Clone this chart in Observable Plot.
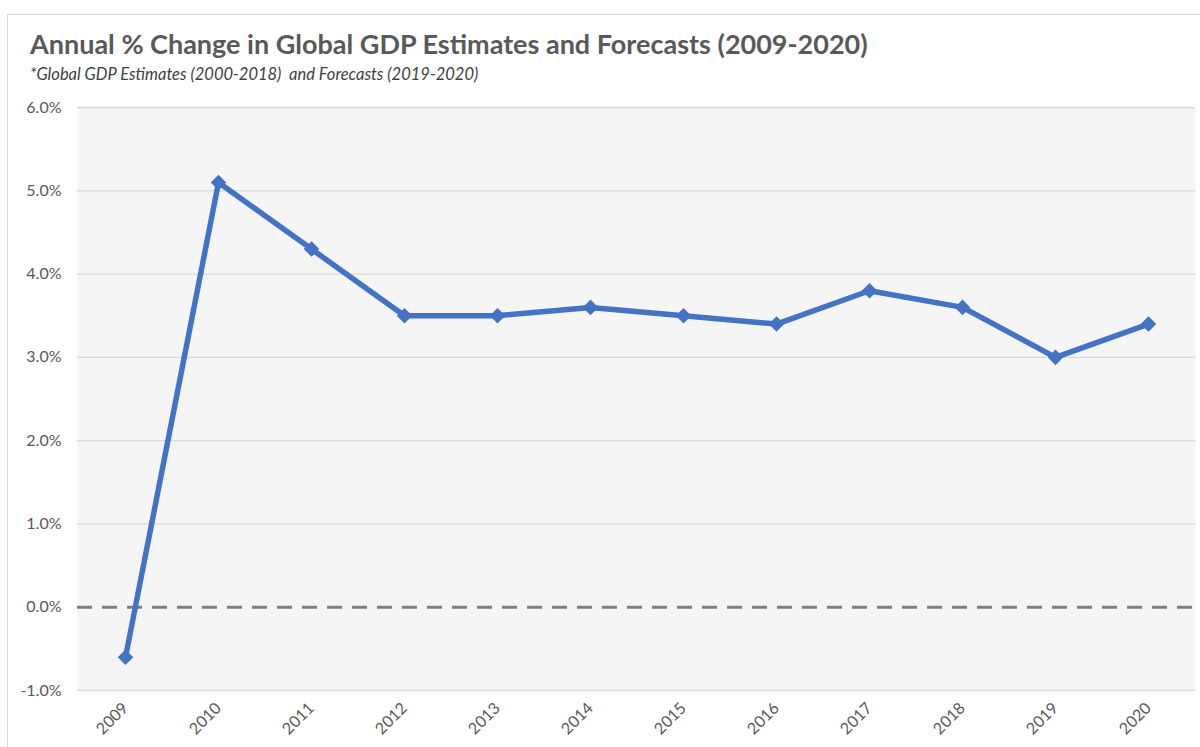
<!DOCTYPE html>
<html>
<head>
<meta charset="utf-8">
<script src="https://cdn.jsdelivr.net/npm/d3@7"></script>
<script src="https://cdn.jsdelivr.net/npm/@observablehq/plot@0.6"></script>
<style>
  html, body { margin: 0; padding: 0; background: #fff; overflow: hidden; }
  #frame { position: absolute; left: 7px; top: 14px; width: 1300px; height: 900px; border: 1px solid #d9d9d9; box-sizing: border-box; }
  #title { position: absolute; left: 30px; top: 27px; font-family: Lato, "Open Sans", sans-serif; font-weight: bold; font-size: 27px; color: #595959; white-space: nowrap; }
  #subtitle { position: absolute; left: 30px; top: 64px; font-family: Lato, "Open Sans", sans-serif; font-style: italic; font-size: 16.5px; color: #404040; white-space: nowrap; }
  #chart { position: absolute; left: 0; top: 90px; }
</style>
</head>
<body>
<div id="frame"></div>
<div id="title">Annual % Change in Global GDP Estimates and Forecasts (2009-2020)</div>
<div id="subtitle">*Global GDP Estimates (2000-2018)&nbsp; and Forecasts (2019-2020)</div>
<div id="chart"></div>
<script>
const years = ["2009","2010","2011","2012","2013","2014","2015","2016","2017","2018","2019","2020"];
const gdpChange = [-0.6, 5.1, 4.3, 3.5, 3.5, 3.6, 3.5, 3.4, 3.8, 3.6, 3.0, 3.4];
const yTicks = [-1, 0, 1, 2, 3, 4, 5, 6];

const data = years.map((y, i) => ({year: y, value: gdpChange[i]}));

const chart = Plot.plot({
  width: 1200,
  height: 657,
  marginTop: 17,
  marginBottom: 57,
  marginLeft: 77,
  marginRight: 5,
  style: {fontFamily: "Lato, 'Open Sans', sans-serif", fontSize: "16px", color: "#595959", background: "transparent"},
  x: {type: "point", domain: years, padding: 0.5, label: null, tickRotate: -45, tickSize: 0, tickPadding: 15},
  y: {domain: [-1, 6], ticks: yTicks, label: null, tickSize: 0, tickPadding: 16, tickFormat: d => d.toFixed(1) + "%"},
  marks: [
    Plot.frame({fill: "#f5f5f5", stroke: null}),
    Plot.ruleY(yTicks.filter(d => d !== 0), {stroke: "#d9d9d9", strokeWidth: 1.3}),
    Plot.ruleY([0], {stroke: "#7f7f7f", strokeWidth: 3, strokeDasharray: "15,10"}),
    Plot.line(data, {x: "year", y: "value", stroke: "#4472c4", strokeWidth: 5.5, strokeLinejoin: "miter"}),
    Plot.dot(data, {x: "year", y: "value", symbol: "diamond2", r: 7, fill: "#4472c4", stroke: null})
  ]
});
document.getElementById("chart").appendChild(chart);
</script>
</body>
</html>
